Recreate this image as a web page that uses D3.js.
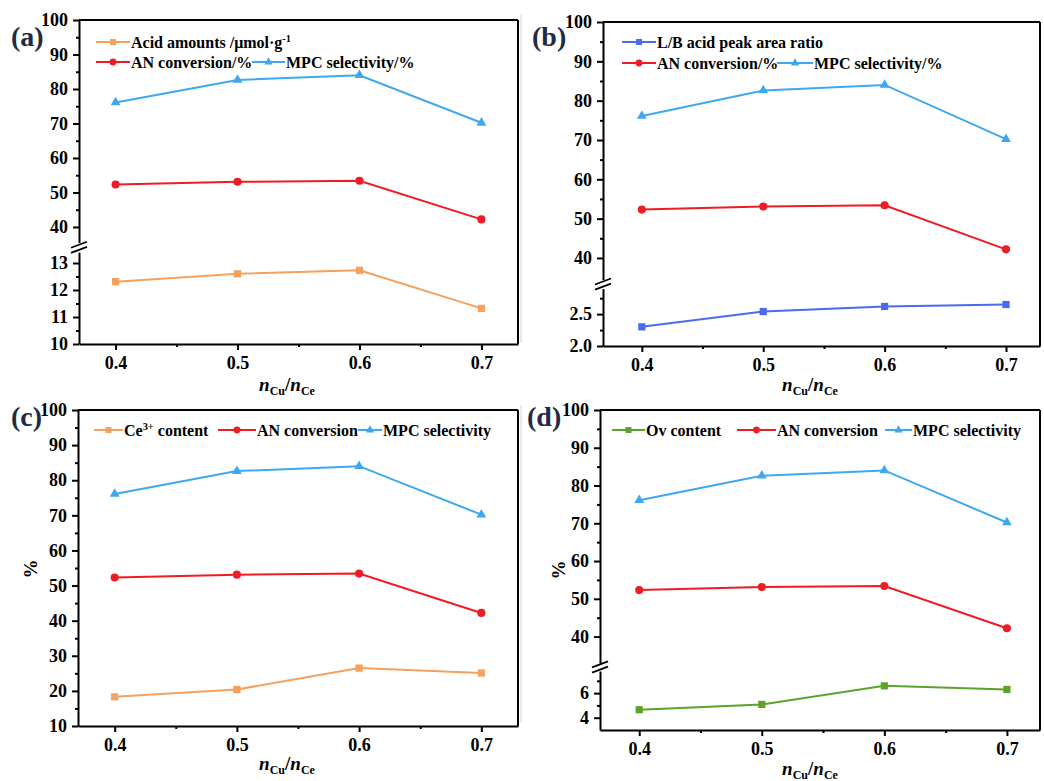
<!DOCTYPE html>
<html>
<head>
<meta charset="utf-8">
<script src="https://cdn.jsdelivr.net/npm/d3@7"></script>
<style>
  html, body { margin: 0; padding: 0; background: #fff; }
  svg { display: block; }
</style>
</head>
<body>
<svg id="chart" width="1044" height="781"></svg>
<script>
// Cu/Ce ratio series
const nRatio = [0.4, 0.5, 0.6, 0.7];
const anConversion = [52.3, 53.1, 53.4, 42.2];
const mpcSelectivity = [76.1, 82.6, 84.0, 70.2];
const acidAmounts = [12.31, 12.6, 12.73, 11.32];
const lbRatio = [2.30, 2.54, 2.62, 2.65];
const ce3Content = [18.3, 20.4, 26.5, 25.1];
const ovContent = [4.65, 5.08, 6.59, 6.30];

// tick values
const xTicks = [0.4, 0.5, 0.6, 0.7];
const xMinor = [0.45, 0.55, 0.65];
const pctTicks = [40, 50, 60, 70, 80, 90, 100];
const pctMinor = [45, 55, 65, 75, 85, 95];
const pctTicksFull = [10, 20, 30, 40, 50, 60, 70, 80, 90, 100];
const pctMinorFull = [15, 25, 35, 45, 55, 65, 75, 85, 95];
const acidTicks = [10, 11, 12, 13];
const acidMinor = [10.5, 11.5, 12.5];
const lbTicks = [2.0, 2.5];
const lbMinor = [2.25, 2.75];
const ovTicks = [4, 6];
const ovMinor = [5, 7];

const colors = {
    orange: '#F5A05C',
    red: '#EE1C25',
    sky: '#3DA8F0',
    blue: '#4A6AF0',
    green: '#5DA22A'
};
const serif = '"Liberation Serif", "Times New Roman", serif';
const tickFont = 18;
const legendFont = 16;

const an = { values: anConversion, color: colors.red, symbol: d3.symbolCircle, size: 52 };
const mpc = { values: mpcSelectivity, color: colors.sky, symbol: d3.symbolTriangle, size: 42 };

const panels = [
    {
        tag: '(a)', tagPos: [11, 46],
        frame: { l: 79, r: 518, t: 20, b: 344 },
        xDomain: [0.37, 0.73], xLabel: [287, 391],
        upper: { domain: [35.5, 100], px: 242.5, ticks: pctTicks, minor: pctMinor, fmt: d3.format('d') },
        lower: { domain: [10, 13.4], px: 252.2, ticks: acidTicks, minor: acidMinor, fmt: d3.format('d') },
        series: [
            { values: acidAmounts, color: colors.orange, symbol: d3.symbolSquare, size: 52, seg: 'lower' },
            Object.assign({ seg: 'upper' }, an),
            Object.assign({ seg: 'upper' }, mpc)
        ],
        legend: [
            { s: 0, x0: 96, x1: 130, y: 42, label: [['Acid amounts /μmol·g'], ['-1', 'sup']] },
            { s: 1, x0: 96, x1: 130, y: 62, label: [['AN conversion/%']] },
            { s: 2, x0: 252, x1: 285, y: 62, label: [['MPC selectivity/%']] }
        ]
    },
    {
        tag: '(b)', tagPos: [532, 46],
        frame: { l: 603, r: 1040, t: 22, b: 346 },
        xDomain: [0.368, 0.728], xLabel: [810, 391],
        upper: { domain: [34.5, 100], px: 279.6, ticks: pctTicks, minor: pctMinor, fmt: d3.format('d') },
        lower: { domain: [2.0, 2.9], px: 288.6, ticks: lbTicks, minor: lbMinor, fmt: d3.format('.1f') },
        series: [
            { values: lbRatio, color: colors.blue, symbol: d3.symbolSquare, size: 52, seg: 'lower' },
            Object.assign({ seg: 'upper' }, an),
            Object.assign({ seg: 'upper' }, mpc)
        ],
        legend: [
            { s: 0, x0: 622, x1: 656, y: 42, label: [['L/B acid peak area ratio']] },
            { s: 1, x0: 622, x1: 656, y: 63, label: [['AN conversion/%']] },
            { s: 2, x0: 777, x1: 813, y: 63, label: [['MPC selectivity/%']] }
        ]
    },
    {
        tag: '(c)', tagPos: [11, 426],
        frame: { l: 78, r: 518, t: 410, b: 726 },
        xDomain: [0.37, 0.73], xLabel: [287, 770],
        yLabel: [37, 569],
        upper: { domain: [10, 100], px: 726, ticks: pctTicksFull, minor: pctMinorFull, fmt: d3.format('d') },
        series: [
            { values: ce3Content, color: colors.orange, symbol: d3.symbolSquare, size: 52, seg: 'upper' },
            Object.assign({ seg: 'upper' }, an),
            Object.assign({ seg: 'upper' }, mpc)
        ],
        legend: [
            { s: 0, x0: 94, x1: 123, y: 430, label: [['Ce'], ['3+', 'sup'], [' content']] },
            { s: 1, x0: 218, x1: 256, y: 430, label: [['AN conversion']] },
            { s: 2, x0: 358, x1: 382, y: 430, label: [['MPC selectivity']] }
        ]
    },
    {
        tag: '(d)', tagPos: [527, 426],
        frame: { l: 600, r: 1040, t: 410, b: 730 },
        xDomain: [0.368, 0.727], xLabel: [810, 775],
        yLabel: [565, 570],
        upper: { domain: [33, 100], px: 663, ticks: pctTicks, minor: pctMinor, fmt: d3.format('d') },
        lower: { domain: [3, 7.8], px: 671, ticks: ovTicks, minor: ovMinor, fmt: d3.format('d') },
        series: [
            { values: ovContent, color: colors.green, symbol: d3.symbolSquare, size: 52, seg: 'lower' },
            Object.assign({ seg: 'upper' }, an),
            Object.assign({ seg: 'upper' }, mpc)
        ],
        legend: [
            { s: 0, x0: 612, x1: 645, y: 430, label: [['Ov content']] },
            { s: 1, x0: 737, x1: 776, y: 430, label: [['AN conversion']] },
            { s: 2, x0: 885, x1: 912, y: 430, label: [['MPC selectivity']] }
        ]
    }
];

const svg = d3.select('#chart');

// faint edges of the pasted right-hand images
svg.append('line').attr('x1', 521).attr('x2', 521).attr('y1', 14).attr('y2', 343)
    .attr('stroke', '#d4d4d4').attr('stroke-width', 1);
svg.append('line').attr('x1', 521).attr('x2', 521).attr('y1', 405).attr('y2', 723)
    .attr('stroke', '#d4d4d4').attr('stroke-width', 1);

// style an axis group: bold serif labels, thick black lines
function styleAxis(g) {
    g.attr('font-family', serif).attr('font-size', tickFont).attr('font-weight', 'bold');
    g.selectAll('path, line').attr('stroke', '#000').attr('stroke-width', 2);
    g.selectAll('text').attr('fill', '#000');
}

// write text made of plain and superscript parts
function richText(text, parts, size) {
    let shifted = false;
    parts.forEach(([s, kind]) => {
        let t = text.append('tspan').text(s);
        if (kind === 'sup') {
            t.attr('dy', -6).attr('font-size', size * 0.65);
            shifted = true;
        } else if (shifted) {
            t.attr('dy', 6);
            shifted = false;
        }
    });
}

function drawPanel(p) {
    let f = p.frame;
    let g = svg.append('g').attr('class', 'panel');

    let x = d3.scaleLinear().domain(p.xDomain).range([f.l, f.r]);

    // one y scale per axis segment; the lower one only exists on broken axes
    let scales = {
        upper: d3.scaleLinear().domain(p.upper.domain).range([p.upper.px, f.t])
    };
    if (p.lower) scales.lower = d3.scaleLinear().domain(p.lower.domain).range([f.b, p.lower.px]);

    // top and right frame lines
    g.append('line').attr('x1', f.l).attr('x2', f.r).attr('y1', f.t).attr('y2', f.t)
        .attr('stroke', '#000').attr('stroke-width', 2);
    g.append('line').attr('x1', f.r).attr('x2', f.r).attr('y1', f.t).attr('y2', f.b)
        .attr('stroke', '#000').attr('stroke-width', 2);

    // x axis
    let xa = g.append('g').attr('transform', `translate(0,${f.b})`)
        .call(d3.axisBottom(x).tickValues(xTicks).tickSize(6).tickSizeOuter(0)
            .tickPadding(6).tickFormat(d3.format('.1f')));
    styleAxis(xa);
    let xm = g.append('g').attr('transform', `translate(0,${f.b})`)
        .call(d3.axisBottom(x).tickValues(xMinor).tickSize(3).tickFormat(''));
    xm.select('.domain').remove();
    styleAxis(xm);

    // y axis segments
    Object.keys(scales).forEach((key) => {
        let seg = p[key];
        let ya = g.append('g').attr('transform', `translate(${f.l},0)`)
            .call(d3.axisLeft(scales[key]).tickValues(seg.ticks).tickSize(6).tickSizeOuter(0)
                .tickPadding(5).tickFormat(seg.fmt));
        styleAxis(ya);
        let ym = g.append('g').attr('transform', `translate(${f.l},0)`)
            .call(d3.axisLeft(scales[key]).tickValues(seg.minor).tickSize(3).tickFormat(''));
        ym.select('.domain').remove();
        styleAxis(ym);
    });

    // break marks between the two segments
    if (p.lower) {
        let c = (p.upper.px + p.lower.px) / 2;
        [-2.6, 2.6].forEach((dy) => {
            g.append('line')
                .attr('x1', f.l - 8).attr('y1', c + dy + 3)
                .attr('x2', f.l + 8).attr('y2', c + dy - 3)
                .attr('stroke', '#000').attr('stroke-width', 1.8);
        });
    }

    // series lines and markers
    p.series.forEach((s) => {
        let y = scales[s.seg];
        let line = d3.line().x((d, i) => x(nRatio[i])).y((d) => y(d));
        g.append('path').datum(s.values)
            .attr('d', line)
            .attr('fill', 'none')
            .attr('stroke', s.color)
            .attr('stroke-width', 2);
        g.selectAll(null).data(s.values).enter().append('path')
            .attr('d', d3.symbol().type(s.symbol).size(s.size))
            .attr('transform', (d, i) => `translate(${x(nRatio[i])},${y(d)})`)
            .attr('fill', s.color);
    });

    // legend
    p.legend.forEach((item) => {
        let s = p.series[item.s];
        g.append('line').attr('x1', item.x0).attr('x2', item.x1)
            .attr('y1', item.y).attr('y2', item.y)
            .attr('stroke', s.color).attr('stroke-width', 2);
        g.append('path')
            .attr('d', d3.symbol().type(s.symbol).size(s.size * 0.7))
            .attr('transform', `translate(${(item.x0 + item.x1) / 2},${item.y})`)
            .attr('fill', s.color);
        let t = g.append('text')
            .attr('x', item.x1 + 1).attr('y', item.y + 5.5)
            .attr('font-family', serif).attr('font-size', legendFont).attr('font-weight', 'bold')
            .attr('fill', '#000');
        richText(t, item.label, legendFont);
    });

    // panel tag
    g.append('text').attr('x', p.tagPos[0]).attr('y', p.tagPos[1])
        .attr('font-family', serif).attr('font-size', 28).attr('font-weight', 'bold')
        .attr('fill', '#1f2a44')
        .text(p.tag);

    // x axis title: n_Cu / n_Ce
    let xt = g.append('text').attr('x', p.xLabel[0]).attr('y', p.xLabel[1])
        .attr('text-anchor', 'middle')
        .attr('font-family', serif).attr('font-size', 19).attr('font-weight', 'bold');
    xt.append('tspan').attr('font-style', 'italic').text('n');
    xt.append('tspan').attr('font-size', 12).attr('dy', 4).text('Cu');
    xt.append('tspan').attr('dy', -4).text('/');
    xt.append('tspan').attr('font-style', 'italic').text('n');
    xt.append('tspan').attr('font-size', 12).attr('dy', 4).text('Ce');

    if (p.yLabel) {
        g.append('text')
            .attr('transform', `translate(${p.yLabel[0]},${p.yLabel[1]}) rotate(-90)`)
            .attr('text-anchor', 'middle')
            .attr('font-family', serif).attr('font-size', 19).attr('font-weight', 'bold')
            .text('%');
    }
}

panels.forEach(drawPanel);
</script>
</body>
</html>
